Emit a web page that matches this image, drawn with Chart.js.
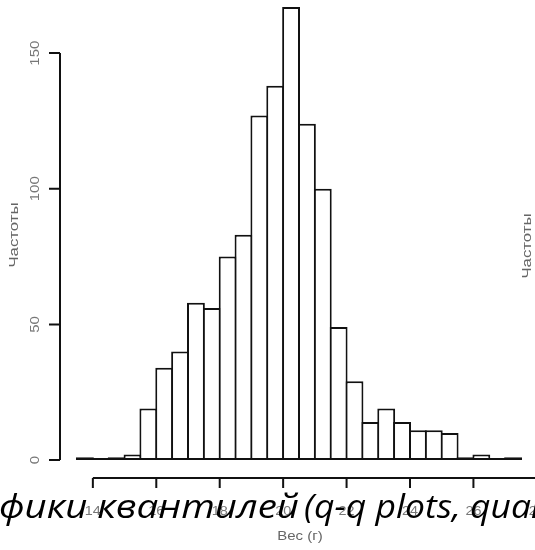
<!DOCTYPE html>
<html>
<head>
<meta charset="utf-8">
<script src="https://cdn.jsdelivr.net/npm/chart.js@4.4.1/dist/chart.umd.min.js"></script>
<style>
  html, body { margin: 0; padding: 0; background: #fff; }
  #wrap { position: relative; width: 535px; height: 550px; }
</style>
</head>
<body>
<div id="wrap"><canvas id="hist" width="535" height="550"></canvas></div>
<script>
// =======================
// Data: weight histogram, 0.5 g bins (left edges)
// =======================
const binStarts = [13.5, 14, 14.5, 15, 15.5, 16, 16.5, 17, 17.5, 18, 18.5, 19, 19.5, 20,
                   20.5, 21, 21.5, 22, 22.5, 23, 23.5, 24, 24.5, 25, 25.5, 26, 26.5, 27];
const counts    = [1, 0, 1, 2, 19, 34, 40, 58, 56, 75, 83, 127, 138, 167,
                   124, 100, 49, 29, 14, 19, 14, 11, 11, 10, 1, 2, 0, 1];
const xTicks = [14, 16, 18, 20, 22, 24, 26, 28];
const yTicks = [0, 50, 100, 150];
const xTitle = "Вес (г)";
const yTitle = "Частоты";
const slideWords = ["фики квантилей", "(q-q plots, quantile"];

const labelFont = '12px "Liberation Sans", Arial, sans-serif';

// text drawn centred at (x, y), optionally rotated, widened along its baseline
function stretchedText(ctx, text, x, y, rotate, stretch) {
  ctx.save();
  ctx.translate(x, y);
  if (rotate) ctx.rotate(-Math.PI / 2);
  ctx.scale(stretch, 1);
  ctx.fillText(text, 0, 0);
  ctx.restore();
}

// =======================
// R-style axes (detached from the bars)
// =======================
const rAxes = {
  id: "rAxes",
  afterDatasetsDraw(chart) {
    const { ctx, chartArea } = chart;
    const xs = chart.scales.xv, ys = chart.scales.y;
    const y0 = ys.getPixelForValue(0);
    ctx.save();
    ctx.strokeStyle = "#111";
    ctx.lineWidth = 2;

    // base line under the empty bins
    const first = xs.getPixelForValue(binStarts[0]);
    const last = xs.getPixelForValue(binStarts[binStarts.length - 1] + 0.5);
    ctx.beginPath();
    ctx.moveTo(first - 1, y0 - 1);
    ctx.lineTo(last + 1, y0 - 1);
    ctx.stroke();

    // y axis
    const yTop = ys.getPixelForValue(yTicks[yTicks.length - 1]);
    const axX = 60;
    ctx.beginPath();
    ctx.moveTo(axX, y0);
    ctx.lineTo(axX, yTop);
    yTicks.forEach(v => {
      const p = ys.getPixelForValue(v);
      ctx.moveTo(axX, p);
      ctx.lineTo(axX - 11, p);
    });
    ctx.stroke();

    // x axis
    const axY = chartArea.bottom - 1;
    ctx.beginPath();
    ctx.moveTo(xs.getPixelForValue(xTicks[0]), axY);
    ctx.lineTo(xs.getPixelForValue(xTicks[xTicks.length - 1]), axY);
    xTicks.forEach(v => {
      const p = xs.getPixelForValue(v);
      ctx.moveTo(p, axY);
      ctx.lineTo(p, axY + 10);
    });
    ctx.stroke();

    // tick labels
    ctx.fillStyle = "#777";
    ctx.font = labelFont;
    ctx.textAlign = "center";
    ctx.textBaseline = "middle";
    xTicks.forEach(v => stretchedText(ctx, String(v), xs.getPixelForValue(v), 512, false, 1.2));
    yTicks.forEach(v => stretchedText(ctx, String(v), 36, ys.getPixelForValue(v), true, 1.25));

    // axis titles (the right one belongs to the neighbouring panel)
    ctx.fillStyle = "#666";
    stretchedText(ctx, xTitle, 300, 537, false, 1.25);
    stretchedText(ctx, yTitle, 15, 235, true, 1.4);
    stretchedText(ctx, yTitle, 528, 246, true, 1.4);
    ctx.restore();
  },
  afterDraw(chart) {
    // slide caption running over the bottom of the plot;
    // each part squeezed so its first n chars fill [left, left + width]
    const { ctx } = chart;
    const spans = [[-1, 300, 14], [304, 166, 12]];
    ctx.save();
    ctx.fillStyle = "#000";
    ctx.font = 'italic 32px "Open Sans", "Liberation Sans", sans-serif';
    ctx.textBaseline = "alphabetic";
    ctx.textAlign = "left";
    slideWords.forEach((w, i) => {
      const [x, width, n] = spans[i];
      const sx = width / ctx.measureText(w.slice(0, n)).width;
      ctx.save();
      ctx.translate(x, 518);
      ctx.scale(sx, 1);
      ctx.fillText(w, 0, 0);
      ctx.restore();
    });
    ctx.restore();
  }
};

// =======================
// Histogram
// =======================
new Chart(document.getElementById("hist"), {
  type: "bar",
  data: {
    labels: binStarts.map(String),
    datasets: [{
      data: counts,
      backgroundColor: "#fff",
      borderColor: "#111",
      borderWidth: 2,
      borderSkipped: false,
      categoryPercentage: 1,
      barPercentage: 1.126,
      clip: false
    }]
  },
  options: {
    responsive: false,
    animation: false,
    devicePixelRatio: 1,
    layout: { padding: { left: 77, right: 14, top: 7, bottom: 71 } },
    plugins: { legend: { display: false }, tooltip: { enabled: false } },
    scales: {
      x: { type: "category", display: false, offset: true },
      xv: { type: "linear", axis: "x", position: "bottom", display: false, offset: false,
            min: 13.5, max: 27.5 },
      y: { type: "linear", display: false, min: -7, max: 167 }
    }
  },
  plugins: [rAxes]
});
</script>
</body>
</html>
